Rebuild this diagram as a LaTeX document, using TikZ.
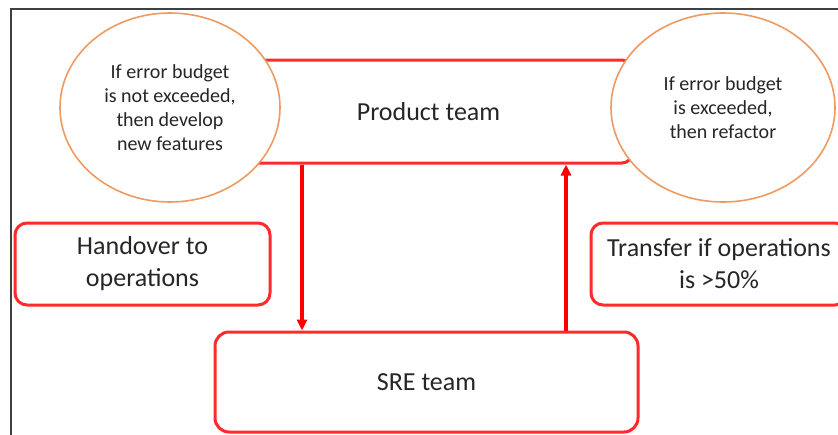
\documentclass[tikz,border=0pt]{standalone}
\usepackage{fontspec}
\setmainfont{Carlito}
\usepackage{tikz}
\usepackage{xcolor}
\usetikzlibrary{arrows.meta,positioning,shapes.geometric,calc}
\definecolor{ink}      {HTML}{262626}
\definecolor{framegray}{HTML}{404040}
\definecolor{boxred}   {HTML}{FF2A2A}
\definecolor{arrred}   {HTML}{FF0000}
\definecolor{ovalorange}{HTML}{EE9A60}
\tikzset{
  teambox/.style   ={draw=boxred, fill=white, line width=3pt, rounded corners=10pt,
                     align=center, font=\fontsize{26}{31}\selectfont, text=ink, inner sep=0pt},
  notebox/.style   ={draw=boxred, fill=white, line width=3pt, rounded corners=12pt,
                     align=center, font=\fontsize{26}{32}\selectfont, text=ink, inner sep=0pt},
  ruleoval/.style  ={ellipse, draw=ovalorange, fill=white, line width=1.6pt,
                     align=center, font=\fontsize{20}{24}\selectfont, text=ink, inner sep=0pt},
  flowarr/.style   ={-{Triangle[length=11pt,width=10pt]}, line width=3.2pt, color=arrred},
}
\begin{document}
\begin{tikzpicture}[x=1pt,y=-1pt]
    \clip (0,0) rectangle (838,434);
    \fill[white] (0,0) rectangle (838,434);
    % frame of the slide
    \draw[framegray, line width=1.6pt] (11,445) -- (11,9) -- (850,9);

    \node[teambox, minimum width=407pt, minimum height=103pt] (product) at (428.5,111.5) {Product team};
    \node[ruleoval, minimum width=220pt, minimum height=189pt] (notexc) at (170,107.5)
      {If error budget\\is not exceeded,\\then develop\\new features};
    \node[ruleoval, minimum width=224pt, minimum height=189pt] (exc) at (723,107.5)
      {If error budget\\is exceeded,\\then refactor};

    \node[teambox, rounded corners=14pt, minimum width=423pt, minimum height=100pt] (sre) at (426.5,382) {SRE team};

    \node[notebox, minimum width=255pt, minimum height=82pt] (handover) at (142.5,264)
      {Handover to\\operations};
    \node[notebox, minimum width=256pt, minimum height=82pt] (transfer) at (719,264)
      {Transfer if operations\\is >50\%};

    \draw[flowarr] (302,0 |- product.south) -- (302,0 |- sre.north);
    \draw[flowarr] (566,0 |- sre.north) -- (566,0 |- product.south);
  \end{tikzpicture}
\end{document}
